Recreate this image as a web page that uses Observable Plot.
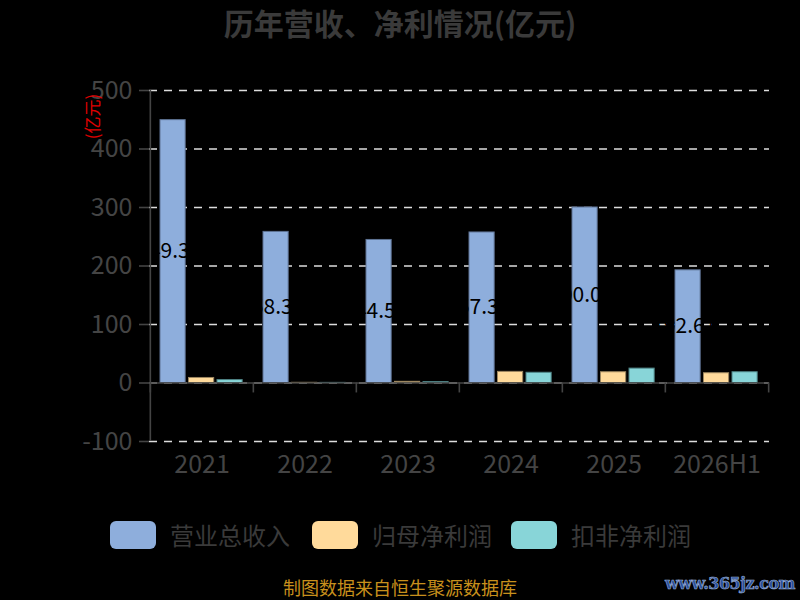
<!DOCTYPE html>
<html>
<head>
<meta charset="utf-8">
<script src="https://cdn.jsdelivr.net/npm/d3@7"></script>
<script src="https://cdn.jsdelivr.net/npm/@observablehq/plot@0.6"></script>
<style>
  html, body { margin: 0; padding: 0; background: #000; }
  body { width: 800px; height: 600px; position: relative; overflow: hidden; font-family: "Noto Sans CJK SC", "Noto Sans", sans-serif; }
  #title { position: absolute; left: 0; top: 0; width: 800px; height: 44px; line-height: 44px; text-align: center; font-size: 30px; font-weight: bold; color: #3a3a3a; }
  #chart { position: absolute; left: 0; top: 46px; }
  #legend { position: absolute; top: 521px; left: 0; width: 800px; height: 28px; }
  .item { position: absolute; top: 0; height: 28px; display: flex; align-items: center; }
  .sw { width: 46px; height: 28px; border-radius: 6px; margin-right: 14px; }
  .lab { font-size: 24px; color: #3a3a3a; line-height: 28px; }
  #caption { position: absolute; top: 577px; left: 0; width: 800px; text-align: center; font-size: 18px; line-height: 20px; color: #c8901c; }
  #wm { position: absolute; right: 5px; top: 574px; font-family: "DejaVu Serif", serif; font-weight: bold; font-size: 16px; color: #2a4f9a; -webkit-text-stroke: 0.6px #9ab0d8; letter-spacing: -0.5px; }
</style>
</head>
<body>
<div id="title">历年营收、净利情况(亿元)</div>
<div id="chart"></div>
<div id="legend"></div>
<div id="caption">制图数据来自恒生聚源数据库</div>
<div id="wm">www.365jz.com</div>
<script>
const categories = ["2021", "2022", "2023", "2024", "2025", "2026H1"];
const seriesNames = ["营业总收入", "归母净利润", "扣非净利润"];
const revenue = [449.34, 258.31, 244.52, 257.33, 300.04, 192.61];
const netProfit = [8.6, 0.3, 2.0, 19.0, 18.4, 16.7];
const deductedProfit = [5.0, 0.2, 1.5, 17.5, 24.6, 18.4];
const yTicks = [-100, 0, 100, 200, 300, 400, 500];
const colors = ["#8eaedc", "#ffda9b", "#88d5d8"];
const strokes = ["#5f7394", "#9c8660", "#4f8486"];

const rows = categories.map((c, i) => ({
  category: c,
  revenue: revenue[i],
  netProfit: netProfit[i],
  deductedProfit: deductedProfit[i]
}));
const keys = ["revenue", "netProfit", "deductedProfit"];

const W = 800, H = 454, ML = 149, MR = 31, MT = 44, MB = 59;
const step = (W - ML - MR) / categories.length;
const barOffsets = [10, 38.5, 67];
const barW = 25.5;
const tickDepth = -17;
const labelSize = 21;
const font = "'Noto Sans CJK SC', 'Noto Sans', sans-serif";

const barMarks = keys.map((k, i) => Plot.barY(rows, {
  x: "category",
  y: k,
  fill: colors[i],
  stroke: strokes[i],
  strokeWidth: 1,
  insetLeft: barOffsets[i],
  insetRight: step - barOffsets[i] - barW
}));

const chart = Plot.plot({
  width: W,
  height: H,
  marginLeft: ML,
  marginRight: MR,
  marginTop: MT,
  marginBottom: MB,
  style: { background: "transparent", fontFamily: font, overflow: "visible" },
  x: { domain: categories, padding: 0, axis: null },
  y: { domain: [-100, 500], axis: null },
  marks: [
    Plot.gridY(yTicks, { stroke: "#dddddd", strokeOpacity: 1, strokeWidth: 1.6, strokeDasharray: "8,7" }),
    ...barMarks,
    Plot.text(rows, {
      x: "category",
      y: d => d.revenue / 2,
      text: d => d.revenue.toFixed(2),
      textAnchor: "start",
      dx: barOffsets[0] - step / 2 - labelSize * 1.1,
      fill: "#000",
      fontSize: labelSize
    }),
    Plot.ruleY([0], { stroke: "#444", strokeWidth: 1.6 }),
    Plot.ruleX([categories[0]], { x: d => d, dx: -step / 2, y1: -100, y2: 500, stroke: "#444", strokeWidth: 1.6 }),
    Plot.ruleX(categories, { x: d => d, dx: -step / 2, y1: 0, y2: tickDepth, stroke: "#444", strokeWidth: 1.6 }),
    Plot.ruleX([categories[categories.length - 1]], { x: d => d, dx: step / 2, y1: 0, y2: tickDepth, stroke: "#444", strokeWidth: 1.6 }),
    Plot.axisY(yTicks, { tickSize: 10, tickPadding: 7, fontSize: 25, fill: "#444", stroke: "#444", strokeWidth: 1.6, tickFormat: d => String(d), label: null }),
    Plot.axisX({ tickSize: 0, tickPadding: 14, fontSize: 25, fill: "#444", label: null }),
    Plot.text(["(亿元)"], { frameAnchor: "top-left", rotate: -90, dx: -63, dy: 26, fill: "#e00000", fontSize: 17, textAnchor: "middle" })
  ]
});
document.getElementById("chart").appendChild(chart);

const legend = document.getElementById("legend");
const legendX = [110, 312, 511];
seriesNames.forEach((name, i) => {
  const item = document.createElement("div");
  item.className = "item";
  item.style.left = legendX[i] + "px";
  item.innerHTML = `<div class="sw" style="background:${colors[i]}"></div><span class="lab">${name}</span>`;
  legend.appendChild(item);
});
</script>
</body>
</html>
